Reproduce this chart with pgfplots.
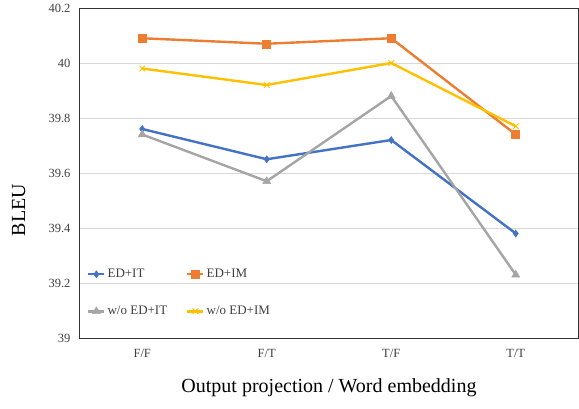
\documentclass[border=0pt]{standalone}
\usepackage{fontspec}
\setmainfont{Liberation Serif}
\usepackage{pgfplots}
\pgfplotsset{compat=1.18}
\definecolor{cBlue}{HTML}{4472C4}
\definecolor{cOrange}{HTML}{ED7D31}
\definecolor{cGray}{HTML}{A5A5A5}
\definecolor{cYellow}{HTML}{FFC000}
\definecolor{tickc}{HTML}{404040}
\begin{document}
\begin{tikzpicture}
\path[use as bounding box] (-80pt,-70pt) rectangle (499pt,338pt);
\begin{axis}[
  at={(0pt,0pt)}, anchor=south west,
  scale only axis, width=498pt, height=330pt,
  xmin=-0.5, xmax=3.5, ymin=39, ymax=40.2,
  xtick={0,1,2,3}, xticklabels={F/F,F/T,T/F,T/T},
  ytick={39,39.2,39.4,39.6,39.8,40,40.2},
  yticklabels={39,39.2,39.4,39.6,39.8,40,40.2},
  major tick length=0pt,
  ymajorgrids, grid style={draw=black!15, line width=0.8pt},
  axis line style={draw=black!80, line width=1pt},
  tick label style={font=\fontsize{12.5}{14}\selectfont, text=tickc},
  yticklabel style={xshift=-6pt},
  xticklabel style={yshift=-8pt},
  /pgf/number format/assume math mode=true,
  xlabel={Output projection / Word embedding},
  ylabel={BLEU},
  xlabel style={font=\fontsize{20}{22}\selectfont, at={(axis description cs:0.5,-0.152)}, anchor=center},
  ylabel style={font=\fontsize{20}{22}\selectfont, at={(axis description cs:-0.123,0.388)}, anchor=center},
  legend columns=2,
  legend style={draw=none, fill=none, at={(rel axis cs:0.014,0.215)}, anchor=north west,
    font=\fontsize{13}{15}\selectfont, text=tickc,
    /tikz/every even column/.append style={column sep=17pt},
    row sep=23pt, inner sep=0pt},
  legend cell align=left,
  legend image code/.code={\draw[mark repeat=2,mark phase=2] plot coordinates {(0pt,0pt) (8pt,0pt) (16pt,0pt)};},
  every axis plot/.append style={line width=2.4pt},
]
\addplot[cBlue, mark=diamond*, mark size=3.5pt, mark options={solid, line width=0.5pt}] coordinates {(0,39.76) (1,39.65) (2,39.72) (3,39.38)};
\addlegendentry{ED+IT}
\addplot[cOrange, mark=square*, mark size=4pt, mark options={solid, line width=0.5pt}] coordinates {(0,40.09) (1,40.07) (2,40.09) (3,39.74)};
\addlegendentry{ED+IM}
\addplot[cGray, mark=triangle*, mark size=4.5pt, mark options={solid, line width=0.5pt}] coordinates {(0,39.74) (1,39.57) (2,39.88) (3,39.23)};
\addlegendentry{w/o ED+IT}
\addplot[cYellow, mark=x, mark size=4pt, mark options={solid, line width=1pt}] coordinates {(0,39.98) (1,39.92) (2,40.00) (3,39.77)};
\addlegendentry{w/o ED+IM}
\end{axis}
\end{tikzpicture}
\end{document}
